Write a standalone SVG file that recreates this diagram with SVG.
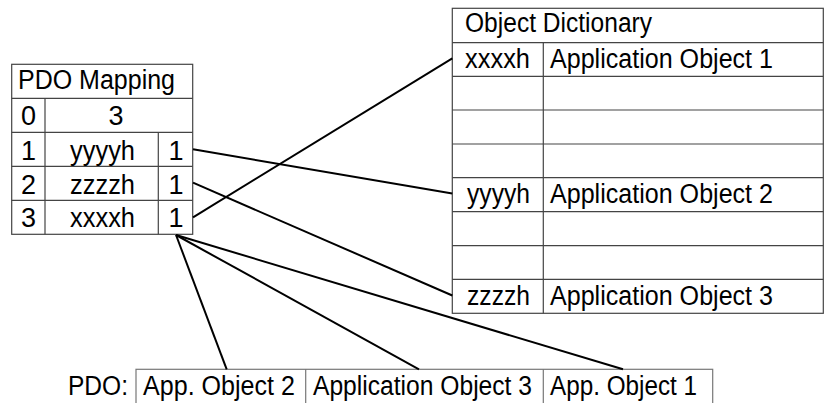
<svg xmlns="http://www.w3.org/2000/svg" width="828" height="403" viewBox="0 0 828 403">
<style>
  .tbl { fill: #ffffff; stroke: #444444; stroke-width: 1.2; }
  .ln { stroke: #444444; stroke-width: 1.2; fill: none; }
  .pdo { fill: #ffffff; stroke: #777777; stroke-width: 1.2; }
  .pln { stroke: #777777; stroke-width: 1.2; fill: none; }
  .con { stroke: #000000; stroke-width: 2; fill: none; }
  text { font-family: "Liberation Sans", Arial, sans-serif; font-size: 27px; fill: #000000; }
  .m { text-anchor: middle; }
</style>
<rect width="828" height="403" fill="#ffffff"/>

<g id="pdo-mapping">
  <rect class="tbl" x="11.7" y="64.3" width="181" height="170"/>
  <line class="ln" x1="11.7" y1="98.3" x2="192.7" y2="98.3"/>
  <line class="ln" x1="11.7" y1="132.3" x2="192.7" y2="132.3"/>
  <line class="ln" x1="11.7" y1="166.3" x2="192.7" y2="166.3"/>
  <line class="ln" x1="11.7" y1="200.3" x2="192.7" y2="200.3"/>
  <line class="ln" x1="45" y1="98.3" x2="45" y2="234.3"/>
  <line class="ln" x1="158.3" y1="132.3" x2="158.3" y2="234.3"/>
  <text x="18" y="89.3" textLength="157" lengthAdjust="spacingAndGlyphs">PDO Mapping</text>
  <text class="m" x="28.5" y="125">0</text>
  <text class="m" x="116" y="125">3</text>
  <text class="m" x="28.5" y="159.5">1</text>
  <text x="70" y="159.5" textLength="65" lengthAdjust="spacingAndGlyphs">yyyyh</text>
  <text class="m" x="176" y="159.5">1</text>
  <text class="m" x="28.5" y="193.5">2</text>
  <text x="70" y="193.5" textLength="65" lengthAdjust="spacingAndGlyphs">zzzzh</text>
  <text class="m" x="176" y="193.5">1</text>
  <text class="m" x="28.5" y="227">3</text>
  <text x="70" y="227" textLength="65" lengthAdjust="spacingAndGlyphs">xxxxh</text>
  <text class="m" x="176" y="227">1</text>
</g>

<g id="object-dictionary">
  <rect class="tbl" x="452.3" y="8.3" width="371" height="305"/>
  <line class="ln" x1="452.3" y1="42.7" x2="823.3" y2="42.7"/>
  <line class="ln" x1="452.3" y1="76.3" x2="823.3" y2="76.3"/>
  <line class="ln" x1="452.3" y1="110" x2="823.3" y2="110"/>
  <line class="ln" x1="452.3" y1="144" x2="823.3" y2="144"/>
  <line class="ln" x1="452.3" y1="177.7" x2="823.3" y2="177.7"/>
  <line class="ln" x1="452.3" y1="211.7" x2="823.3" y2="211.7"/>
  <line class="ln" x1="452.3" y1="245.7" x2="823.3" y2="245.7"/>
  <line class="ln" x1="452.3" y1="279.3" x2="823.3" y2="279.3"/>
  <line class="ln" x1="543.3" y1="42.7" x2="543.3" y2="313.3"/>
  <text x="465" y="32" textLength="187" lengthAdjust="spacingAndGlyphs">Object Dictionary</text>
  <text x="465" y="68.3" textLength="65" lengthAdjust="spacingAndGlyphs">xxxxh</text>
  <text x="550" y="68.3" textLength="223" lengthAdjust="spacingAndGlyphs">Application Object 1</text>
  <text x="467" y="203.3" textLength="63" lengthAdjust="spacingAndGlyphs">yyyyh</text>
  <text x="550" y="203.3" textLength="223" lengthAdjust="spacingAndGlyphs">Application Object 2</text>
  <text x="467" y="305" textLength="63" lengthAdjust="spacingAndGlyphs">zzzzh</text>
  <text x="550" y="305" textLength="223" lengthAdjust="spacingAndGlyphs">Application Object 3</text>
</g>

<g id="pdo">
  <rect class="pdo" x="136" y="369.3" width="576.7" height="50"/>
  <line class="pln" x1="305.7" y1="369.3" x2="305.7" y2="410"/>
  <line class="pln" x1="543.3" y1="369.3" x2="543.3" y2="410"/>
  <text x="68" y="395" textLength="60" lengthAdjust="spacingAndGlyphs">PDO:</text>
  <text x="143" y="395" textLength="152" lengthAdjust="spacingAndGlyphs">App. Object 2</text>
  <text x="313" y="395" textLength="219" lengthAdjust="spacingAndGlyphs">Application Object 3</text>
  <text x="550" y="395" textLength="147" lengthAdjust="spacingAndGlyphs">App. Object 1</text>
</g>

<g id="connectors">
  <line class="con" x1="193" y1="149.3" x2="452.3" y2="193.5"/>
  <line class="con" x1="193" y1="182.7" x2="452.3" y2="295.5"/>
  <line class="con" x1="193" y1="217.3" x2="452.3" y2="58.3"/>
  <line class="con" x1="176" y1="235" x2="226.7" y2="369.3"/>
  <line class="con" x1="176" y1="235" x2="419" y2="369.3"/>
  <line class="con" x1="176" y1="235" x2="623" y2="369.3"/>
</g>
</svg>
